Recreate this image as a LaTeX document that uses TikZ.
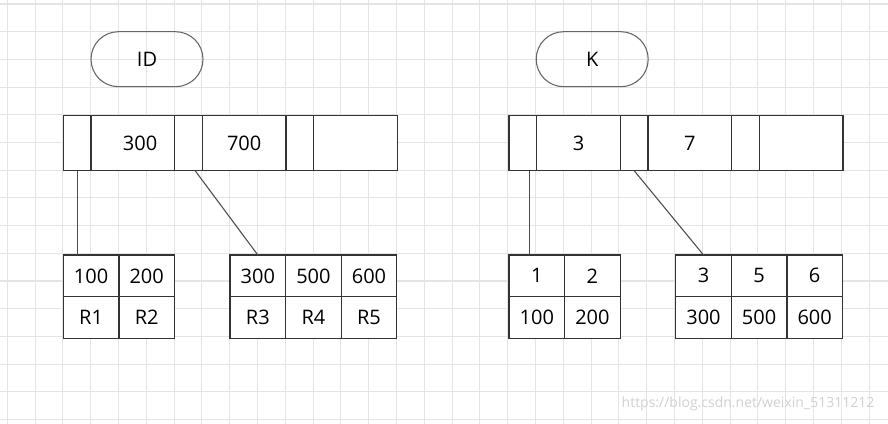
\documentclass[tikz,border=0pt]{standalone}
\usepackage{fontspec}
\setsansfont{Open Sans}
\usetikzlibrary{positioning}
\definecolor{gridgray}{RGB}{228,228,228}
\definecolor{cellline}{RGB}{51,51,51}
\tikzset{
  pill/.style  = {draw=black!60, rectangle, rounded corners=20.6pt,
                  line width=0.8pt, inner sep=0pt,
                  minimum width=84pt, minimum height=41.25pt,
                  font=\sffamily\fontsize{15}{18}\selectfont},
  cell/.style  = {draw=cellline, rectangle, outer sep=0pt, inner sep=0pt,
                  line width=0.9pt, fill=white,
                  font=\sffamily\fontsize{15}{18}\selectfont},
  ptr/.style   = {cell, minimum width=20.8pt, minimum height=41.25pt},
  keyc/.style  = {cell, minimum width=62.7pt, minimum height=41.25pt},
  leaf/.style  = {cell, minimum width=41.7pt, minimum height=31.3pt},
  link/.style  = {draw=black!70, line width=0.8pt},
  gridln/.style= {draw=gridgray, line width=0.8pt},
  wmark/.style = {text=black!18, font=\sffamily\fontsize{10.5}{12}\selectfont},
}

\begin{document}
\begin{tikzpicture}[x=0.75pt, y=-0.75pt]

    % canvas and grid
    \useasboundingbox[fill=white] (0,0) rectangle (888,424);
    \foreach \gx in {0,...,31}
        \draw[gridln] ({7.3+27.8*\gx},0) -- ++(0,424);
    \foreach \gy in {0,...,15}
        \draw[gridln] (0,{4+27.7*\gy}) -- ++(888,0);

    % index names
    \node[pill] (idname) at (147,59.2) {ID};
    \node[pill] (kname) at (592.2,59.2) {K};

    % root of the ID index
    \node[ptr] (idp1) at (77.15,143.2) {};
    \node[keyc, right=0pt of idp1] (idk1) {\hspace*{11pt}300};
    \node[ptr, right=0pt of idk1] (idp2) {};
    \node[keyc, right=0pt of idp2] (idk2) {700};
    \node[ptr, right=0pt of idk2] (idp3) {};
    \node[keyc, right=0pt of idp3] (idk3) {};

    % root of the K index
    \node[ptr] (kp1) at (522.85,143.2) {};
    \node[keyc, right=0pt of kp1] (kk1) {3};
    \node[ptr, right=0pt of kk1] (kp2) {};
    \node[keyc, right=0pt of kp2] (kk2) {7};
    \node[ptr, right=0pt of kk2] (kp3) {};
    \node[keyc, right=0pt of kp3] (kk3) {};

    % leaves of the ID index
    \node[leaf] (idla) at (91.1,275.85) {100};
    \node[leaf, right=0pt of idla] (idlb) {200};
    \node[leaf, below=0pt of idla] (idlc) {\raisebox{-4pt}{R1}};
    \node[leaf, right=0pt of idlc] (idld) {\raisebox{-4pt}{R2}};

    \node[leaf] (idma) at (257.8,275.85) {300};
    \node[leaf, right=0pt of idma] (idmb) {500};
    \node[leaf, right=0pt of idmb] (idmc) {600};
    \node[leaf, below=0pt of idma] (idmd) {\raisebox{-4pt}{R3}};
    \node[leaf, right=0pt of idmd] (idme) {\raisebox{-4pt}{R4}};
    \node[leaf, right=0pt of idme] (idmf) {\raisebox{-4pt}{R5}};

    % leaves of the K index
    \node[leaf] (kla) at (536.8,275.85) {1};
    \node[leaf, right=0pt of kla] (klb) {2};
    \node[leaf, below=0pt of kla] (klc) {100};
    \node[leaf, right=0pt of klc] (kld) {200};

    \node[leaf] (kma) at (703.5,275.85) {3};
    \node[leaf, right=0pt of kma] (kmb) {5};
    \node[leaf, right=0pt of kmb] (kmc) {6};
    \node[leaf, below=0pt of kma] (kmd) {300};
    \node[leaf, right=0pt of kmd] (kme) {500};
    \node[leaf, right=0pt of kme] (kmf) {600};

    % pointers
    \draw[link] (idp1.south) -- (idp1.south |- idla.north);
    \draw[link] ([xshift=5pt]idp2.south) -- (idma.north);
    \draw[link] ([xshift=5pt]kp1.south) -- ([xshift=5pt]kp1.south |- kla.north);
    \draw[link] (kp2.south) -- (kma.north);

    \node[wmark, anchor=east] (wm) at (879,404)
        {https://blog.csdn.net/weixin\_51311212};

\end{tikzpicture}
\end{document}
